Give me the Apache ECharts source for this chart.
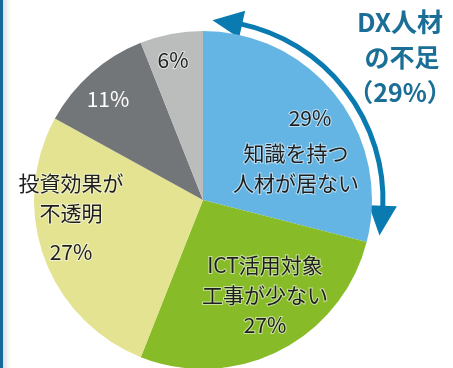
<!DOCTYPE html>
<html>
<head>
<meta charset="utf-8">
<script src="https://cdn.jsdelivr.net/npm/echarts@6/dist/echarts.min.js"></script>
<style>
  html, body { margin: 0; padding: 0; background: #ffffff; }
  #chart { width: 453px; height: 368px; }
</style>
</head>
<body>
<div id="chart"></div>
<script>
// Reasons for not adopting DX — share of responses (%)
const categories = [
  '知識を持つ\n人材が居ない',
  'ICT活用対象\n工事が少ない',
  '投資効果が\n不透明',
  'その他',
  '無回答'
];
const values = [29, 27, 27, 11, 6];
const sliceColors = ['#65b5e4', '#88bb28', '#e3e391', '#737679', '#bbbcbc'];
const calloutLines = ['DX人材', 'の不足', '（29%）'];

const FONT = '"Noto Sans CJK JP", "Noto Sans", sans-serif';
const CX = 203, CY = 200, R = 169;

const chart = echarts.init(document.getElementById('chart'), null, { renderer: 'canvas' });

// label anchor (centre of each text block) for each slice
const labelAnchor = [
  [296, 148],
  [265, 295],
  [71, 222],
  [108, 99],
  [173, 60]
];

function labelText(i) {
  const pct = values[i] + '%';
  if (i === 0) {
    const [a, b] = categories[0].split('\n');
    return '{p0|' + pct + '}\n{t|' + a + '}\n{t|' + b + '}';
  }
  if (i === 1) {
    const [a, b] = categories[1].split('\n');
    return '{t|' + a + '}\n{t|' + b + '}\n{t|' + pct + '}';
  }
  if (i === 2) {
    const [a, b] = categories[2].split('\n');
    return '{t|' + a + '}\n{t|' + b + '}\n{p2|' + pct + '}';
  }
  if (i === 3) return '{w|' + pct + '}';
  return '{t|' + pct + '}';
}

const textBase = {
  fontFamily: FONT,
  fontSize: 21,
  color: '#1e1e1e',
  textBorderColor: 'rgba(255,255,255,0.55)',
  textBorderWidth: 2
};

// Blue double-headed arrow hugging the first slice
const total = values.reduce((a, b) => a + b, 0);
const span = values[0] / total * 2 * Math.PI;
const AR = 180;           // arrow radius
const headLen = 30 / AR;  // arrow head length in radians
const headHalf = 14;
const pad = 3 * Math.PI / 180;
const toScreen = (a, r) => [CX + r * Math.sin(a), CY - r * Math.cos(a)];
const aTip1 = pad, aBase1 = pad + headLen;
const aTip2 = span - pad, aBase2 = span - pad - headLen;
function head(aTip, aBase) {
  return [
    toScreen(aTip, AR),
    toScreen(aBase, AR - headHalf),
    toScreen(aBase, AR + headHalf)
  ];
}
const ARROW = '#0a7bb0';

chart.setOption({
  animation: false,
  backgroundColor: '#ffffff',
  series: [{
    type: 'pie',
    center: [CX, CY],
    radius: R,
    startAngle: 90,
    clockwise: true,
    silent: true,
    itemStyle: { borderWidth: 0 },
    label: {
      show: true,
      position: 'inside',
      formatter: p => labelText(p.dataIndex),
      align: 'center',
      verticalAlign: 'middle',
      rich: {
        t: Object.assign({}, textBase, { lineHeight: 30 }),
        p0: Object.assign({}, textBase, { lineHeight: 41, padding: [0, 0, 0, 28] }),
        p2: Object.assign({}, textBase, { lineHeight: 48 }),
        w: Object.assign({}, textBase, { color: '#ffffff', textBorderWidth: 0, lineHeight: 30 })
      }
    },
    labelLine: { show: false },
    labelLayout: p => ({
      x: labelAnchor[p.dataIndex][0],
      y: labelAnchor[p.dataIndex][1],
      align: 'center',
      verticalAlign: 'middle'
    }),
    data: values.map((v, i) => ({
      name: categories[i],
      value: v,
      itemStyle: { color: sliceColors[i] }
    }))
  }],
  graphic: [
    // left frame edge
    { type: 'rect', shape: { x: 0, y: 0, width: 3, height: 368 }, style: { fill: '#16679a' } },
    {
      type: 'rect', shape: { x: 3, y: 0, width: 8, height: 368 },
      style: {
        fill: new echarts.graphic.LinearGradient(0, 0, 1, 0, [
          { offset: 0, color: 'rgba(60,90,110,0.18)' },
          { offset: 1, color: 'rgba(60,90,110,0)' }
        ])
      }
    },
    // arrow shaft
    {
      type: 'arc',
      shape: {
        cx: CX, cy: CY, r: AR,
        startAngle: -Math.PI / 2 + aBase1 - 0.01,
        endAngle: -Math.PI / 2 + aBase2 + 0.01,
        clockwise: true
      },
      style: { stroke: ARROW, lineWidth: 5, fill: null }
    },
    { type: 'polygon', shape: { points: head(aTip1, aBase1) }, style: { fill: ARROW } },
    { type: 'polygon', shape: { points: head(aTip2, aBase2) }, style: { fill: ARROW } },
    // callout text
    {
      type: 'text', x: 400, y: 22,
      style: { text: calloutLines[0], font: 'bold 26px ' + FONT, fill: '#1b6f96', align: 'center', verticalAlign: 'middle' }
    },
    {
      type: 'text', x: 402, y: 57,
      style: { text: calloutLines[1], font: 'bold 25px ' + FONT, fill: '#1b6f96', align: 'center', verticalAlign: 'middle' }
    },
    {
      type: 'text', x: 400, y: 92,
      style: { text: calloutLines[2], font: 'bold 25px ' + FONT, fill: '#1b6f96', align: 'center', verticalAlign: 'middle' }
    }
  ]
});
</script>
</body>
</html>
